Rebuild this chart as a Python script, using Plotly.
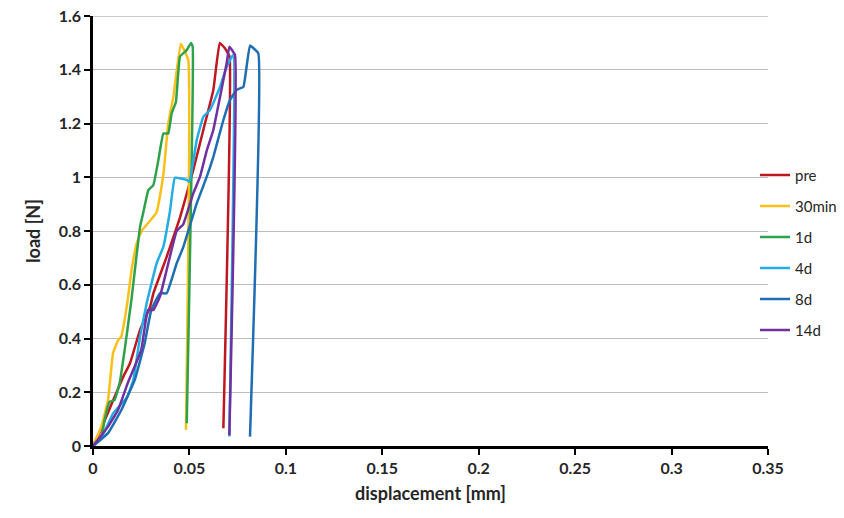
import plotly.graph_objects as go

names = ["pre", "30min", "1d", "4d", "8d", "14d"]
colors = ["#C0161F", "#FBBF1A", "#2EA24A", "#22ADE6", "#1F6EB3", "#7030A0"]

pre_x = [0.0, 0.004, 0.0105, 0.0157, 0.0192, 0.0244, 0.0296, 0.0313, 0.0382, 0.0451, 0.0503, 0.052, 0.0572, 0.0624, 0.0657, 0.0684, 0.0708, 0.0676]
pre_y = [0.0, 0.06, 0.171, 0.258, 0.308, 0.432, 0.518, 0.568, 0.704, 0.85, 0.983, 1.027, 1.176, 1.325, 1.5, 1.48, 1.449, 0.066]

m30_x = [0.0, 0.0043, 0.0078, 0.0104, 0.013, 0.0147, 0.0164, 0.018, 0.020, 0.0227, 0.0252, 0.033, 0.0365, 0.039, 0.0417, 0.0455, 0.0494, 0.0482]
m30_y = [0.0, 0.072, 0.171, 0.346, 0.394, 0.407, 0.469, 0.543, 0.655, 0.755, 0.80, 0.87, 1.01, 1.2, 1.30, 1.497, 1.436, 0.06]

d1_x = [0.0, 0.0043, 0.006, 0.0086, 0.0112, 0.0138, 0.0164, 0.0199, 0.0244, 0.026, 0.0287, 0.0313, 0.0339, 0.0365, 0.039, 0.0408, 0.043, 0.0451, 0.0486, 0.0508, 0.0517, 0.0486]
d1_y = [0.0, 0.03, 0.097, 0.165, 0.171, 0.234, 0.357, 0.543, 0.816, 0.866, 0.952, 0.971, 1.064, 1.163, 1.163, 1.238, 1.28, 1.449, 1.473, 1.50, 1.486, 0.085]

d4_x = [0.0, 0.005, 0.0105, 0.0175, 0.0209, 0.0244, 0.0278, 0.033, 0.0365, 0.040, 0.0425, 0.0486, 0.050, 0.0538, 0.0572, 0.0607, 0.0659, 0.0693, 0.0726, 0.0707]
d4_y = [0.0, 0.04, 0.122, 0.18, 0.245, 0.407, 0.53, 0.68, 0.742, 0.878, 0.998, 0.99, 0.983, 1.139, 1.225, 1.25, 1.337, 1.41, 1.455, 0.035]

d8_x = [0.0, 0.0078, 0.0147, 0.0216, 0.0268, 0.0302, 0.0347, 0.0382, 0.0434, 0.0468, 0.0538, 0.059, 0.0624, 0.0676, 0.071, 0.0745, 0.078, 0.0814, 0.0857, 0.0814]
d8_y = [0.0, 0.048, 0.134, 0.245, 0.382, 0.506, 0.568, 0.568, 0.68, 0.74, 0.903, 1.002, 1.076, 1.213, 1.287, 1.325, 1.337, 1.49, 1.461, 0.035]

d14_x = [0.0, 0.0078, 0.013, 0.018, 0.025, 0.0285, 0.0313, 0.0347, 0.0382, 0.0434, 0.0468, 0.052, 0.0555, 0.059, 0.0624, 0.0659, 0.0693, 0.0707, 0.0736, 0.0707]
d14_y = [0.0, 0.072, 0.134, 0.234, 0.357, 0.506, 0.506, 0.556, 0.655, 0.80, 0.825, 0.94, 1.002, 1.10, 1.176, 1.30, 1.424, 1.486, 1.455, 0.04]

xs = [pre_x, m30_x, d1_x, d4_x, d8_x, d14_x]
ys = [pre_y, m30_y, d1_y, d4_y, d8_y, d14_y]

x_ticks = [0, 0.05, 0.1, 0.15, 0.2, 0.25, 0.3, 0.35]
x_tick_text = ["0", "0.05", "0.1", "0.15", "0.2", "0.25", "0.3", "0.35"]
y_ticks = [0, 0.2, 0.4, 0.6, 0.8, 1.0, 1.2, 1.4, 1.6]
y_tick_text = ["0", "0.2", "0.4", "0.6", "0.8", "1", "1.2", "1.4", "1.6"]
x_max = 0.35
y_max = 1.6

fig = go.Figure()
for n, c, x, y in zip(names, colors, xs, ys):
    fig.add_trace(go.Scatter(x=x, y=y, mode="lines", name=n, legendgroup=n,
                             line=dict(color=c, width=2.5, shape="spline", smoothing=0.3)))

# top gridline (plotly skips the gridline at the range edge)
fig.add_shape(type="line", xref="x", yref="y", x0=0, x1=x_max, y0=y_max, y1=y_max,
              line=dict(color="#BDBDBD", width=1.3), layer="below")

FONT = "Lato, 'Open Sans', sans-serif"
tickfont = dict(size=16, color="#262626", family=FONT, weight="bold")
W, H = 844, 518
ML, MR, MT, MB = 93, 0, 16, 72
plot_w = W - ML - MR
x_dom_end = 675 / plot_w

fig.update_layout(
    width=W, height=H,
    margin=dict(l=ML, r=MR, t=MT, b=MB, autoexpand=False),
    paper_bgcolor="white", plot_bgcolor="white",
    font=dict(family=FONT, color="#262626"),
    showlegend=True,
    legend=dict(x=(755 - ML) / plot_w, y=0.668, xanchor="left", yanchor="top",
                font=dict(size=15, color="#262626"), itemwidth=30,
                tracegroupgap=8.5, bgcolor="rgba(0,0,0,0)"),
    xaxis=dict(range=[0, x_max], domain=[0, x_dom_end], tickvals=x_ticks, ticktext=x_tick_text,
               automargin=False,
               showgrid=False, zeroline=False, showline=True, linecolor="black", linewidth=2.5,
               ticks="outside", ticklen=6, tickwidth=2, tickcolor="black",
               tickfont=tickfont, ticklabeloverflow="allow",
               title=dict(text="<b>displacement [mm]</b>", font=dict(size=18), standoff=12)),
    yaxis=dict(range=[0, y_max], tickvals=y_ticks, ticktext=y_tick_text, automargin=False,
               showgrid=True, gridcolor="#BDBDBD", gridwidth=1.3, zeroline=False,
               showline=True, linecolor="black", linewidth=2.5,
               ticks="outside", ticklen=6, tickwidth=2, tickcolor="black",
               tickfont=tickfont, ticklabeloverflow="allow",
               title=dict(text="<b>load [N]</b>", font=dict(size=18), standoff=14)),
)

fig.write_html("out.html", config={"displayModeBar": False},
               post_script="document.body.style.margin='0';document.body.style.overflow='hidden';")
